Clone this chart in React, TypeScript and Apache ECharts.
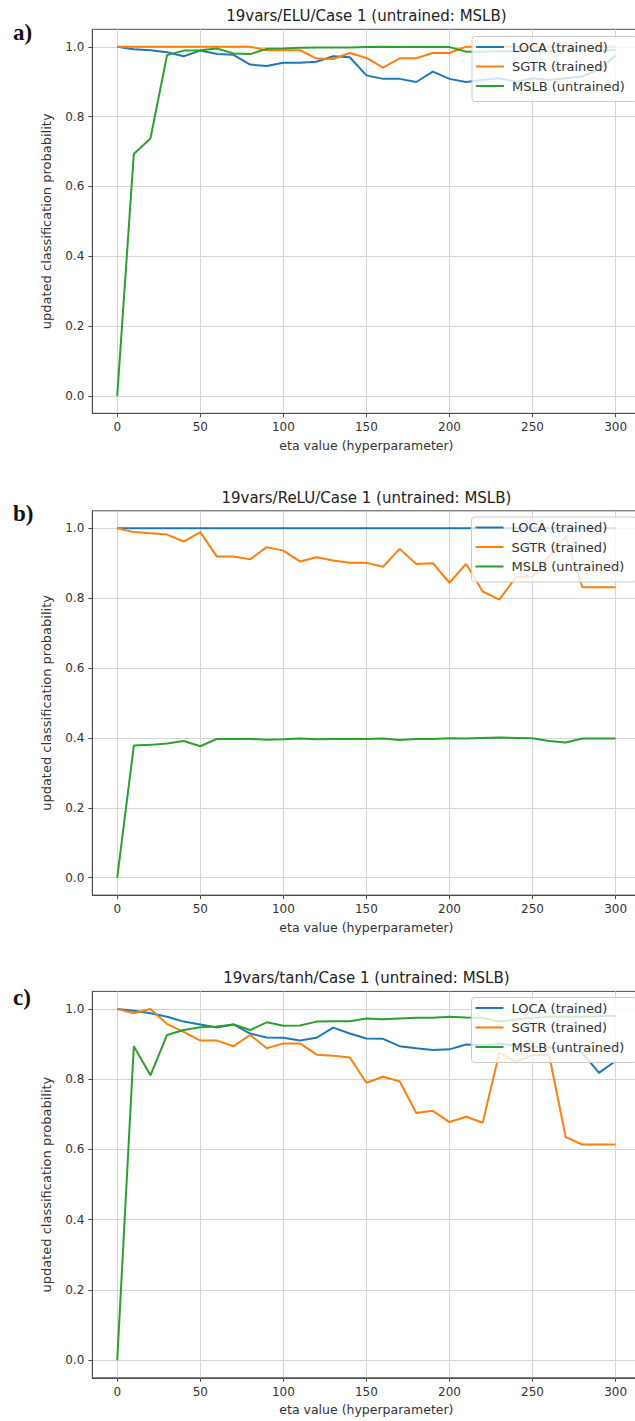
import React, { useEffect, useRef } from "react";
import * as echarts from "echarts";

// ---------- data ----------
const etaValues = [0, 10, 20, 30, 40, 50, 60, 70, 80, 90, 100, 110, 120, 130, 140, 150, 160, 170, 180, 190, 200, 210, 220, 230, 240, 250, 260, 270, 280, 290, 300];
const xTicks = [0, 50, 100, 150, 200, 250, 300];
const yTicks = [0, 0.2, 0.4, 0.6, 0.8, 1.0];
const seriesNames = ["LOCA (trained)", "SGTR (trained)", "MSLB (untrained)"];
const panelTitles = ["19vars/ELU/Case 1 (untrained: MSLB)", "19vars/ReLU/Case 1 (untrained: MSLB)", "19vars/tanh/Case 1 (untrained: MSLB)"];
const panelLetters = ["a)", "b)", "c)"];
const xAxisTitle = "eta value (hyperparameter)";
const yAxisTitle = "updated classification probability";

const eluLoca = [1.0, 0.993, 0.99, 0.984, 0.973, 0.989, 0.979, 0.977, 0.949, 0.945, 0.954, 0.954, 0.957, 0.973, 0.97, 0.918, 0.908, 0.908, 0.899, 0.929, 0.908, 0.899, 0.905, 0.91, 0.9, 0.91, 0.905, 0.91, 0.915, 0.935, 0.975];
const eluSgtr = [1.0, 1.0, 1.0, 1.0, 1.0, 1.0, 1.0, 1.0, 1.0, 0.99, 0.99, 0.99, 0.966, 0.965, 0.982, 0.968, 0.94, 0.967, 0.967, 0.982, 0.982, 1.0, 1.0, 1.0, 1.0, 1.0, 1.0, 1.0, 1.0, 1.0, 1.0];
const eluMslb = [0.0, 0.693, 0.737, 0.976, 0.989, 0.99, 0.995, 0.981, 0.979, 0.994, 0.995, 0.997, 0.998, 0.998, 0.998, 0.999, 1.0, 0.999, 0.999, 0.999, 0.999, 0.986, 0.986, 0.987, 0.987, 0.988, 0.988, 0.989, 0.99, 0.99, 0.99];

const reluLoca = [1.0, 1.0, 1.0, 1.0, 1.0, 1.0, 1.0, 1.0, 1.0, 1.0, 1.0, 1.0, 1.0, 1.0, 1.0, 1.0, 1.0, 1.0, 1.0, 1.0, 1.0, 1.0, 1.0, 1.0, 1.0, 1.0, 1.0, 1.0, 1.0, 1.0, 1.0];
const reluSgtr = [1.0, 0.989, 0.986, 0.982, 0.962, 0.989, 0.919, 0.919, 0.911, 0.946, 0.936, 0.905, 0.917, 0.908, 0.901, 0.901, 0.89, 0.941, 0.898, 0.9, 0.844, 0.898, 0.819, 0.796, 0.86, 0.862, 0.92, 0.976, 0.831, 0.831, 0.831];
const reluMslb = [0.0, 0.378, 0.38, 0.384, 0.391, 0.376, 0.397, 0.397, 0.397, 0.395, 0.396, 0.398, 0.396, 0.397, 0.397, 0.397, 0.398, 0.394, 0.397, 0.397, 0.399, 0.398, 0.4, 0.401, 0.4, 0.399, 0.391, 0.387, 0.398, 0.398, 0.398];

const tanhLoca = [1.0, 0.995, 0.988, 0.978, 0.964, 0.956, 0.947, 0.956, 0.93, 0.919, 0.918, 0.91, 0.918, 0.947, 0.93, 0.916, 0.915, 0.894, 0.888, 0.883, 0.885, 0.899, 0.897, 0.9, 0.897, 0.893, 0.89, 0.885, 0.875, 0.818, 0.852];
const tanhSgtr = [1.0, 0.988, 1.0, 0.957, 0.935, 0.91, 0.91, 0.894, 0.926, 0.888, 0.902, 0.902, 0.87, 0.867, 0.862, 0.79, 0.807, 0.794, 0.704, 0.71, 0.678, 0.693, 0.676, 0.875, 0.85, 0.869, 0.869, 0.635, 0.614, 0.614, 0.614];
const tanhMslb = [0.0, 0.894, 0.811, 0.926, 0.94, 0.948, 0.95, 0.956, 0.94, 0.962, 0.952, 0.953, 0.964, 0.965, 0.965, 0.973, 0.971, 0.973, 0.975, 0.975, 0.978, 0.976, 0.975, 0.964, 0.97, 0.975, 0.978, 0.978, 0.978, 0.979, 0.981];

const panelData = [
  [eluLoca, eluSgtr, eluMslb],
  [reluLoca, reluSgtr, reluMslb],
  [tanhLoca, tanhSgtr, tanhMslb],
];

// ---------- layout / style ----------
const W = 635;
const H = 1421;
const gridLeft = 92.3;
const gridWidth = 548.2;
const gridTops = [29.3, 510.8, 991.4];
const gridHeights = [384, 384.3, 386.4];
const letterYs = [32, 513, 997];
const legendLefts = [472, 471.5, 471.5];
const legendTops = [36.5, 517, 997.5];
const colors = ["#1f77b4", "#ff7f0e", "#2ca02c"];
const FONT = "DejaVu Sans";
const spineColor = "#4d4d4d";
const textColor = "#333333";

export default function App() {
  const ref = useRef<HTMLDivElement>(null);

  useEffect(() => {
    if (!ref.current) return;
    const chart = echarts.init(ref.current, null, { renderer: "svg", width: W, height: H });

    const grids: any[] = [];
    const xAxes: any[] = [];
    const yAxes: any[] = [];
    const series: any[] = [];
    const legends: any[] = [];
    const graphics: any[] = [];
    const centerX = gridLeft + gridWidth / 2;

    panelData.forEach((lines, i) => {
      grids.push({
        left: gridLeft,
        top: gridTops[i],
        width: gridWidth,
        height: gridHeights[i],
        show: true,
        borderColor: spineColor,
        borderWidth: 1,
        backgroundColor: "transparent",
        containLabel: false,
        outerBoundsMode: "none",
      });
      xAxes.push({
        type: "value",
        gridIndex: i,
        min: -15,
        max: 315,
        axisLine: { show: true, onZero: false, lineStyle: { color: spineColor, width: 1 } },
        axisTick: { show: true, length: 4, lineStyle: { color: spineColor }, customValues: xTicks },
        axisLabel: { show: true, margin: 8, fontSize: 12, fontFamily: FONT, color: textColor, customValues: xTicks, formatter: (v: number) => String(v) },
        splitLine: { show: true, lineStyle: { color: "#d4d4d4", width: 1 } },
      });
      yAxes.push({
        type: "value",
        gridIndex: i,
        min: -0.05,
        max: 1.05,
        axisLine: { show: true, onZero: false, lineStyle: { color: spineColor, width: 1 } },
        axisTick: { show: true, length: 4, lineStyle: { color: spineColor }, customValues: yTicks },
        axisLabel: { show: true, margin: 8, fontSize: 12, fontFamily: FONT, color: textColor, customValues: yTicks, formatter: (v: number) => v.toFixed(1) },
        splitLine: { show: true, lineStyle: { color: "#d4d4d4", width: 1 } },
      });
      lines.forEach((vals, k) => {
        series.push({
          type: "line",
          name: seriesNames[k],
          xAxisIndex: i,
          yAxisIndex: i,
          data: etaValues.map((x, j) => [x, vals[j]]),
          showSymbol: false,
          symbol: "none",
          lineStyle: { color: colors[k], width: 2 },
          itemStyle: { color: colors[k] },
          z: 2 + k,
        });
      });
      legends.push({
        orient: "vertical",
        left: legendLefts[i],
        top: legendTops[i],
        data: seriesNames,
        icon: "rect",
        itemWidth: 28,
        itemHeight: 2,
        itemGap: 6.5,
        padding: [4, 12, 9, 4],
        backgroundColor: "rgba(255,255,255,0.8)",
        borderColor: "#cccccc",
        borderWidth: 1,
        borderRadius: 3,
        selectedMode: false,
        textStyle: { fontSize: 13, fontFamily: FONT, color: textColor, padding: [0, 0, 0, 3] },
        z: 10,
      });
      const top = gridTops[i];
      const h = gridHeights[i];
      graphics.push(
        {
          type: "text",
          x: 13,
          y: letterYs[i],
          style: { text: panelLetters[i], fontSize: 23, fontWeight: "bold", fontFamily: "Liberation Serif", fill: "#111", textAlign: "left", textVerticalAlign: "middle" },
        },
        {
          type: "text",
          x: centerX,
          y: top - 13,
          style: { text: panelTitles[i], fontSize: 15, fontFamily: FONT, fill: "#222", textAlign: "center", textVerticalAlign: "middle" },
        },
        {
          type: "text",
          x: centerX,
          y: top + h + 32,
          style: { text: xAxisTitle, fontSize: 12.5, fontFamily: FONT, fill: textColor, textAlign: "center", textVerticalAlign: "middle" },
        },
        {
          type: "text",
          x: 46.5,
          y: top + h / 2,
          rotation: Math.PI / 2,
          style: { text: yAxisTitle, fontSize: 13, fontFamily: FONT, fill: textColor, textAlign: "center", textVerticalAlign: "middle" },
        }
      );
    });

    chart.setOption({
      animation: false,
      backgroundColor: "#ffffff",
      grid: grids,
      xAxis: xAxes,
      yAxis: yAxes,
      series,
      legend: legends,
      graphic: graphics,
    });

    return () => chart.dispose();
  }, []);

  return <div ref={ref} style={{ position: "absolute", left: 0, top: 0, width: W, height: H, background: "#fff" }} />;
}
